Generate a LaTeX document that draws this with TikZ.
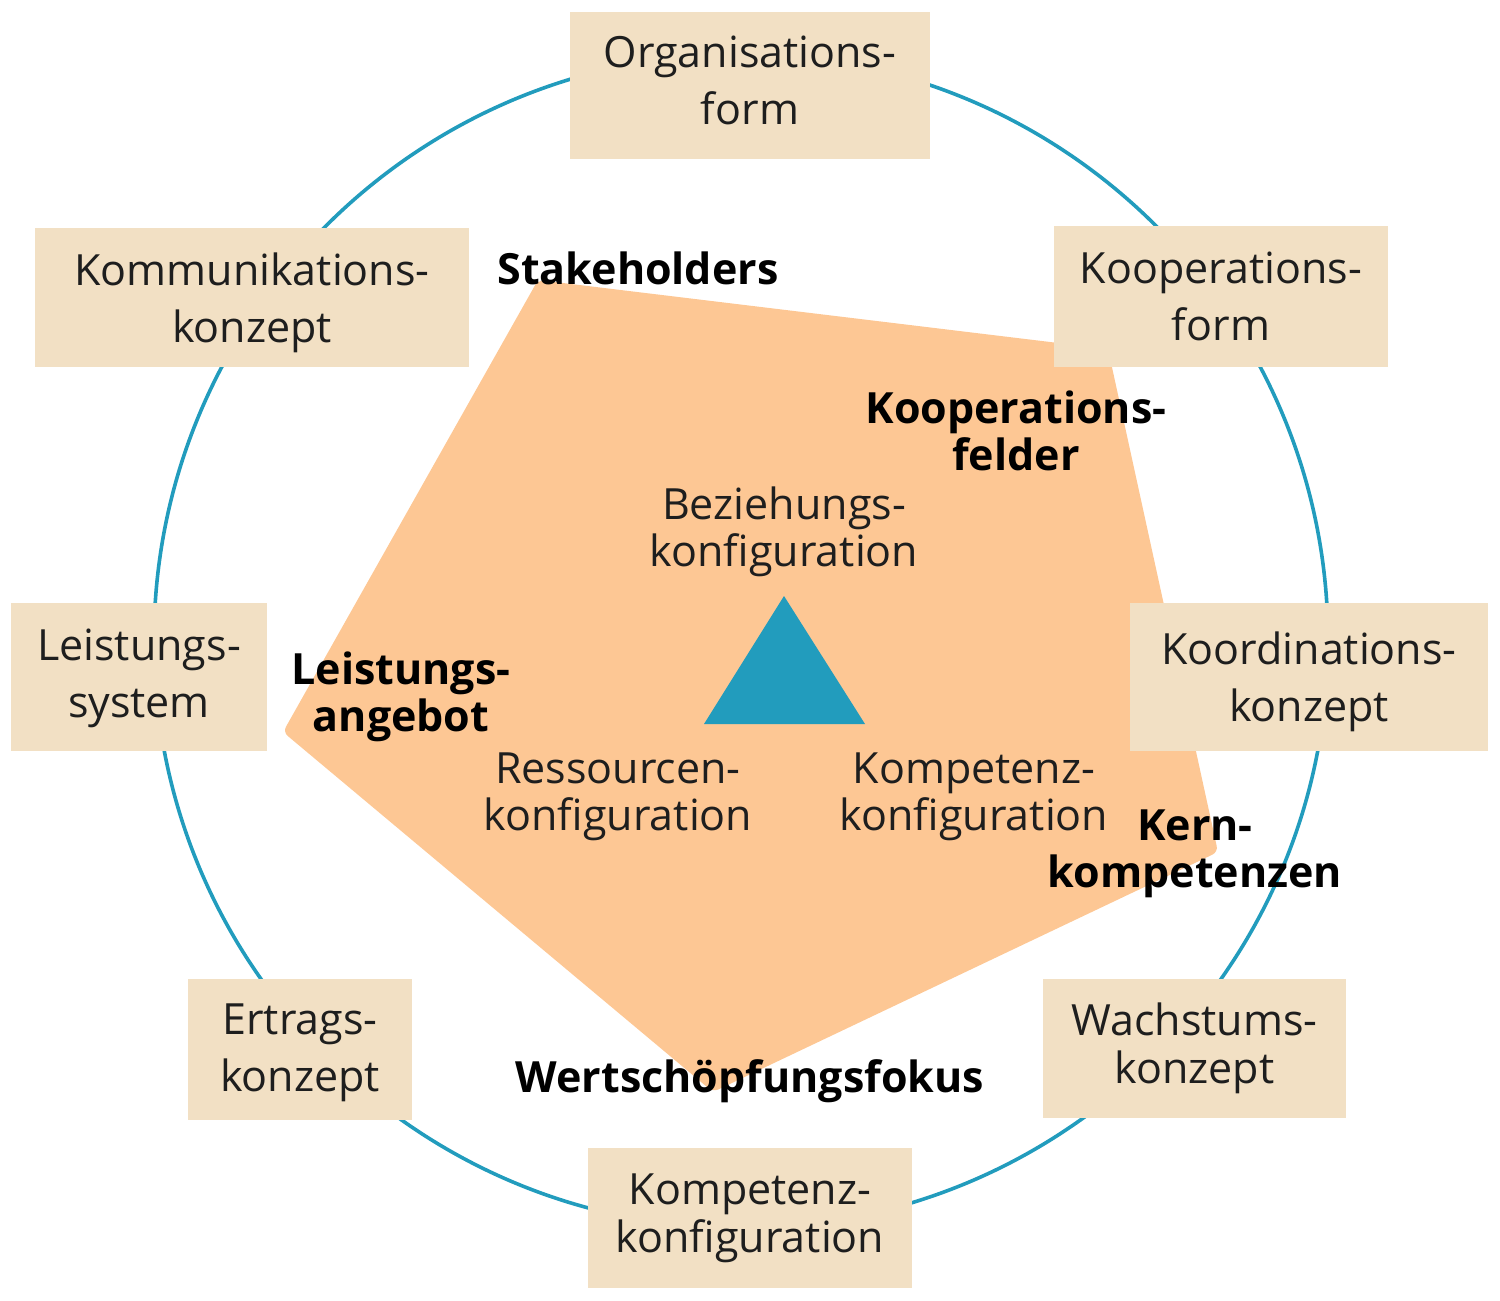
\documentclass[tikz,border=0pt]{standalone}
\usepackage{fontspec}
\setmainfont{Open Sans}
\definecolor{boxfill}{HTML}{F2E0C4}
\definecolor{orangefill}{HTML}{FDC794}
\definecolor{ringblue}{HTML}{229CBD}
\definecolor{textdark}{HTML}{1E1E1E}
\begin{document}
\begin{tikzpicture}[x=0.5pt,y=-0.5pt,
  ring/.style={draw=ringblue, line width=1.8pt},
  boxshape/.style={fill=boxfill, inner sep=0pt},
  boxlabel/.style={inner sep=0pt, align=center, text=textdark,
    font=\fontsize{21.5}{28.5}\selectfont},
  boxlabeltight/.style={boxlabel, font=\fontsize{21.5}{24}\selectfont},
  innertext/.style={inner sep=0pt, align=center, text=textdark,
    font=\fontsize{21.5}{23.5}\selectfont},
  boldtext/.style={inner sep=0pt, align=center, text=black,
    font=\fontsize{21.5}{23.5}\selectfont\bfseries}]
\useasboundingbox (0,0) rectangle (1500,1301);
% ring
\coordinate (c) at (741,641);
\draw[ring] (c) circle[radius=293.5pt];
% pentagon
\coordinate (p1) at (538,280);
\coordinate (p2) at (1108,349);
\coordinate (p3) at (1218,852);
\coordinate (p4) at (713,1092);
\coordinate (p5) at (283,732);
\fill[orangefill, rounded corners=3pt] (p1) -- (p2) -- (p3) -- (p4) -- (p5) -- cycle;
% triangle
\coordinate (t1) at (784,596);
\coordinate (t2) at (865,724);
\coordinate (t3) at (704,724);
\fill[ringblue] (t1) -- (t2) -- (t3) -- cycle;
% boxes
\node[boxshape, minimum width=180pt, minimum height=73.5pt] (org) at (750,85.5) {};
\node[boxshape, minimum width=167pt, minimum height=70.5pt] (koop) at (1221,296.5) {};
\node[boxshape, minimum width=179pt, minimum height=74pt] (koord) at (1309,677) {};
\node[boxshape, minimum width=151.5pt, minimum height=69.5pt] (wachs) at (1194.5,1048.5) {};
\node[boxshape, minimum width=162pt, minimum height=70pt] (komp) at (750,1218) {};
\node[boxshape, minimum width=112pt, minimum height=70.5pt] (ertrag) at (300,1049.5) {};
\node[boxshape, minimum width=128pt, minimum height=74pt] (leist) at (139,677) {};
\node[boxshape, minimum width=217pt, minimum height=69.5pt] (komm) at (252,297.5) {};
% box labels
\node[boxlabel] (orgt) at ([yshift=2.5pt]org.center) {Organisations-\\form};
\node[boxlabel] (koopt) at (koop.center) {Kooperations-\\form};
\node[boxlabel] (koordt) at ([yshift=-2.5pt]koord.center) {Koordinations-\\konzept};
\node[boxlabeltight] (wachst) at (wachs.center) {Wachstums-\\konzept};
\node[boxlabeltight] (kompt) at (komp.center) {Kompetenz-\\konfiguration};
\node[boxlabel] (ertragt) at ([yshift=-1.5pt]ertrag.center) {Ertrags-\\konzept};
\node[boxlabel] (leistt) at ([yshift=-0.8pt]leist.center) {Leistungs-\\system};
\node[boxlabel] (kommt) at ([yshift=-2.5pt]komm.center) {Kommunikations-\\konzept};
% inner labels
\node[boldtext] (stake) at (638,268) {Stakeholders};
\node[boldtext] (koopf) at (1016,431) {Kooperations-\\felder};
\node[innertext] (bez) at (784,532) {Beziehungs-\\konfiguration};
\node[boldtext] (lang) at (401,697) {Leistungs-\\angebot};
\node[innertext] (ress) at (618,797) {Ressourcen-\\konfiguration};
\node[innertext] (kkonf) at (974,797) {Kompetenz-\\konfiguration};
\node[boldtext] (kern) at (1195,854) {Kern-\\kompetenzen};
\node[boldtext] (wert) at (750,1081) {Wertschöpfungsfokus};
\end{tikzpicture}
\end{document}
